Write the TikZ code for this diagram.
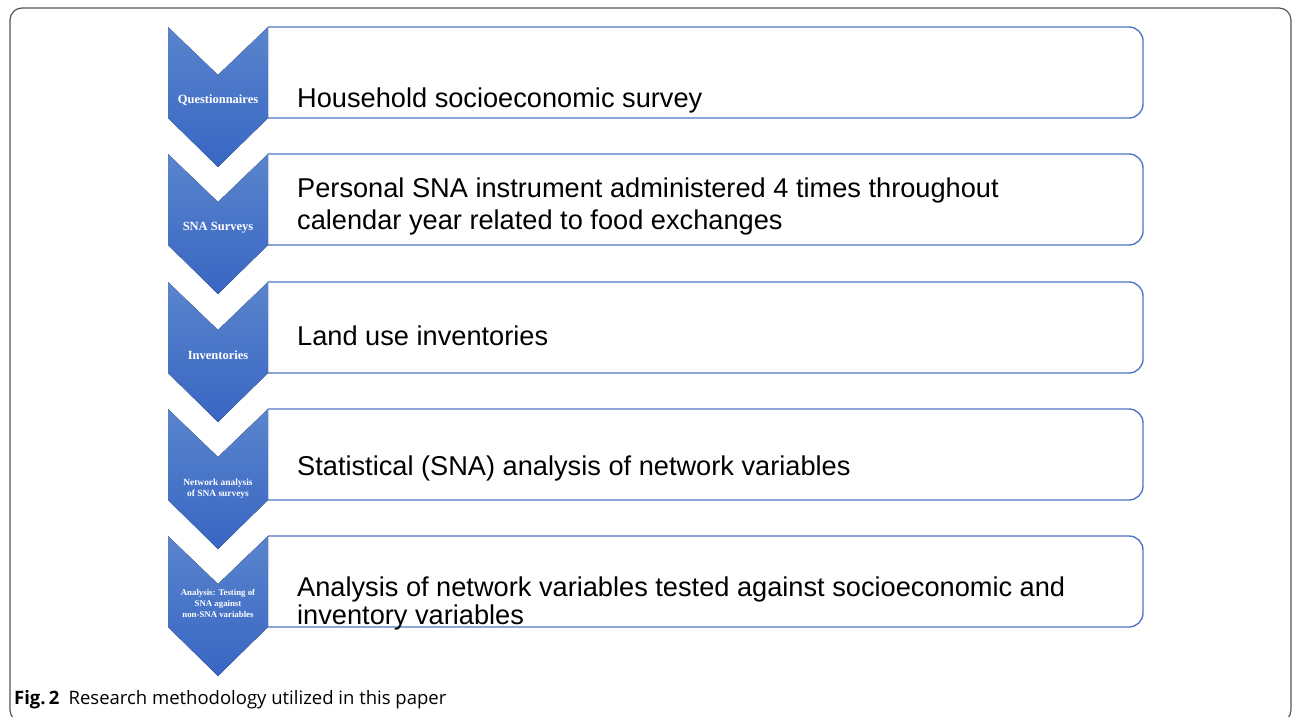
\documentclass[tikz,border=0pt]{standalone}
\usepackage{fontspec}
\setmainfont{Liberation Serif}
\newfontfamily\boxfont{Liberation Sans}
\newfontfamily\capfont{Open Sans}
\definecolor{chevtop}{RGB}{90,132,205}
\definecolor{chevbot}{RGB}{56,102,195}
\definecolor{boxblue}{RGB}{78,118,198}
\definecolor{framec}{RGB}{85,85,85}
\begin{document}
\begin{tikzpicture}[x=1pt,y=-1pt,
  chev/.style={shading=axis, top color=chevtop, bottom color=chevbot, draw=none},
  stepbox/.style={draw=boxblue, line width=1.4pt, rounded corners=14pt},
  lbl/.style={text=white, inner sep=0pt, align=center},
  maintxt/.style={font=\boxfont\fontsize{27.2}{30}\selectfont, anchor=base west, inner sep=0pt},
]
\useasboundingbox (0,0) rectangle (1293,717);
\draw[framec, line width=1.2pt, rounded corners=12pt] (10,8) rectangle (1291,722);
% boxes
\foreach \T in {27,154,282,409,536}{
  \draw[stepbox] (268,\T) -- (1143,\T) -- (1143,\T+91) -- (268,\T+91);
}
% chevrons
\foreach \T in {27,154,282,409,536}{
  \fill[chev] (168,\T) -- (218,\T+48) -- (268,\T) -- (268,\T+91) -- (218,\T+140) -- (168,\T+91) -- cycle;
}
% chevron labels
\node[lbl, font=\bfseries\fontsize{12.5}{14}\selectfont] (l1) at (218,100) {Questionnaires};
\node[lbl, font=\bfseries\fontsize{12.5}{14}\selectfont] (l2) at (218,228) {SNA Surveys};
\node[lbl, font=\bfseries\fontsize{12.5}{14}\selectfont] (l3) at (218,355) {Inventories};
\node[lbl, font=\bfseries\fontsize{9.4}{11}\selectfont] (l4) at (218,488.5) {Network analysis\\of SNA surveys};
\node[lbl, font=\bfseries\fontsize{8.8}{11}\selectfont] (l5) at (218,603) {Analysis: Testing of\\SNA against\\non-SNA variables};
% box texts
\node[maintxt] (t1) at (297,107) {Household socioeconomic survey};
\node[maintxt] (t2a) at (297,197) {Personal SNA instrument administered 4 times throughout};
\node[maintxt] (t2b) at (297,229) {calendar year related to food exchanges};
\node[maintxt] (t3) at (297,345) {Land use inventories};
\node[maintxt] (t4) at (297,475) {Statistical (SNA) analysis of network variables};
\node[maintxt] (t5a) at (297,596) {Analysis of network variables tested against socioeconomic and};
\node[maintxt] (t5b) at (297,624) {inventory variables};
% caption
\node[anchor=base west, inner sep=0pt, font=\capfont\fontsize{18.5}{20}\selectfont] (cap) at (14,704) {\textbf{Fig.\,2}\hspace{0.5em}Research methodology utilized in this paper};
\end{tikzpicture}
\end{document}
